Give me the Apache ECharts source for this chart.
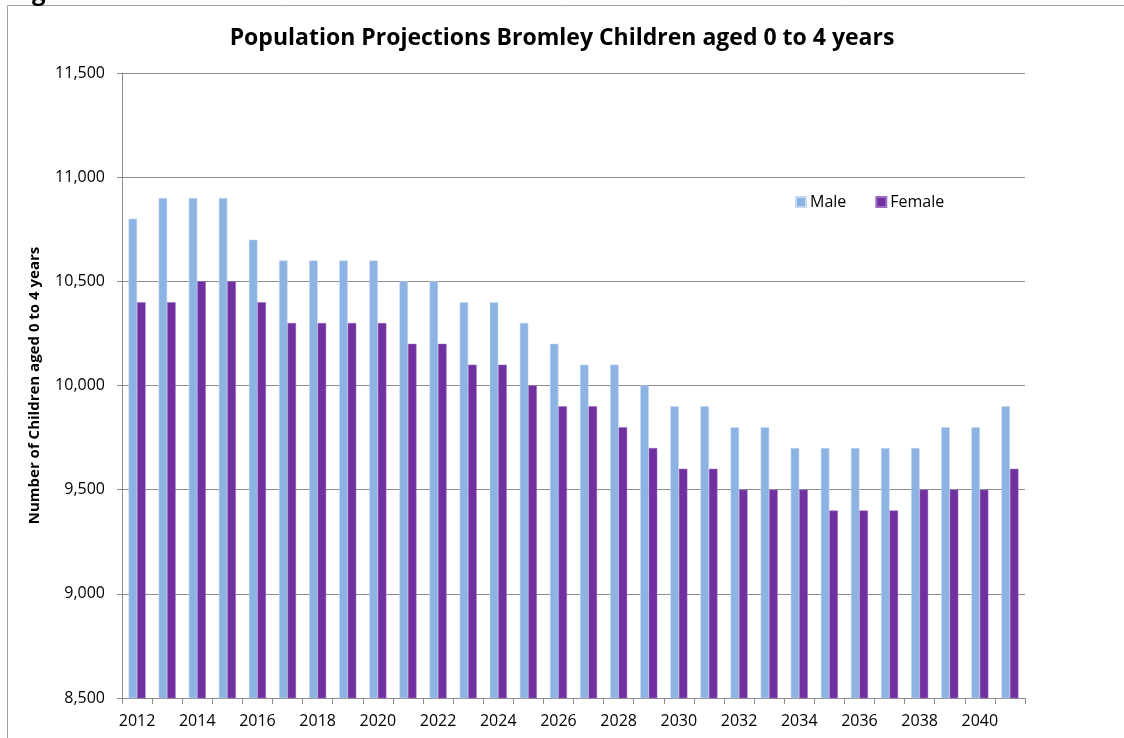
<!DOCTYPE html>
<html>
<head>
<meta charset="utf-8">
<script src="https://cdn.jsdelivr.net/npm/echarts@6/dist/echarts.min.js"></script>
<style>
  html, body { margin: 0; padding: 0; background: #fff; }
  #chart { width: 1124px; height: 738px; }
</style>
</head>
<body>
<div id="chart"></div>
<script>
// data
const years = [
  "2012", "2013", "2014", "2015", "2016", "2017", "2018", "2019", "2020", "2021",
  "2022", "2023", "2024", "2025", "2026", "2027", "2028", "2029", "2030", "2031",
  "2032", "2033", "2034", "2035", "2036", "2037", "2038", "2039", "2040", "2041"
];
const male = [
  10800, 10900, 10900, 10900, 10700, 10600, 10600, 10600, 10600, 10500,
  10500, 10400, 10400, 10300, 10200, 10100, 10100, 10000, 9900, 9900,
  9800, 9800, 9700, 9700, 9700, 9700, 9700, 9800, 9800, 9900
];
const female = [
  10400, 10400, 10500, 10500, 10400, 10300, 10300, 10300, 10300, 10200,
  10200, 10100, 10100, 10000, 9900, 9900, 9800, 9700, 9600, 9600,
  9500, 9500, 9500, 9400, 9400, 9400, 9500, 9500, 9500, 9600
];

const font = "'Open Sans', Lato, sans-serif";
const gridGrey = "#8c8c8c";

const chart = echarts.init(document.getElementById("chart"));
chart.setOption({
  animation: false,
  textStyle: { fontFamily: font, color: "#000" },
  title: {
    text: "Population Projections Bromley Children aged 0 to 4 years",
    left: "center",
    top: 22,
    textStyle: { fontFamily: font, fontSize: 23, fontWeight: "bold", color: "#000" }
  },
  legend: {
    data: ["Male", "Female"],
    left: 790,
    top: 189,
    itemWidth: 10,
    itemHeight: 10,
    itemGap: 29,
    icon: "rect",
    textStyle: { fontFamily: font, fontSize: 16, color: "#000", padding: [0, 0, 0, -1] }
  },
  graphic: [
    {
      type: "rect",
      shape: { x: 7.5, y: 5.5, width: 1130, height: 760 },
      style: { fill: "none", stroke: "#a0a0a0", lineWidth: 1 },
      silent: true
    },
    {
      // tail of the page heading, cut off by the top edge
      type: "text",
      style: { x: 32, y: 5, text: "g", verticalAlign: "bottom", fontFamily: font, fontSize: 24, fontWeight: "bold", fill: "#000" },
      silent: true
    }
  ],
  grid: { left: 122, right: 99, top: 73, bottom: 40, containLabel: false },
  xAxis: {
    type: "category",
    data: years,
    axisLine: { lineStyle: { color: gridGrey } },
    axisTick: { show: true, length: 6, interval: 0, alignWithLabel: false, lineStyle: { color: gridGrey } },
    axisLabel: { interval: 1, fontSize: 16, color: "#000", margin: 15, fontFamily: font }
  },
  yAxis: {
    type: "value",
    min: 8500,
    max: 11500,
    interval: 500,
    name: "Number of Children aged 0 to 4 years",
    nameLocation: "middle",
    nameGap: 80,
    nameRotate: 90,
    nameTextStyle: { fontFamily: font, fontSize: 15, fontWeight: "bold", color: "#000" },
    axisLine: { show: true, lineStyle: { color: gridGrey } },
    axisTick: { show: true, length: 5, lineStyle: { color: gridGrey } },
    splitLine: { lineStyle: { color: gridGrey } },
    axisLabel: {
      fontSize: 16,
      color: "#000",
      margin: 17,
      fontFamily: font,
      formatter: v => v.toLocaleString("en-US")
    }
  },
  series: [
    {
      name: "Male",
      type: "bar",
      data: male,
      barWidth: 8.5,
      barGap: "0%",
      itemStyle: { color: "#8db3e2", borderColor: "#c6d9f0", borderWidth: 0.5 }
    },
    {
      name: "Female",
      type: "bar",
      data: female,
      barWidth: 8.5,
      barGap: "0%",
      itemStyle: { color: "#7030a0", borderColor: "#9b6cc0", borderWidth: 0.5 }
    }
  ]
});
</script>
</body>
</html>
